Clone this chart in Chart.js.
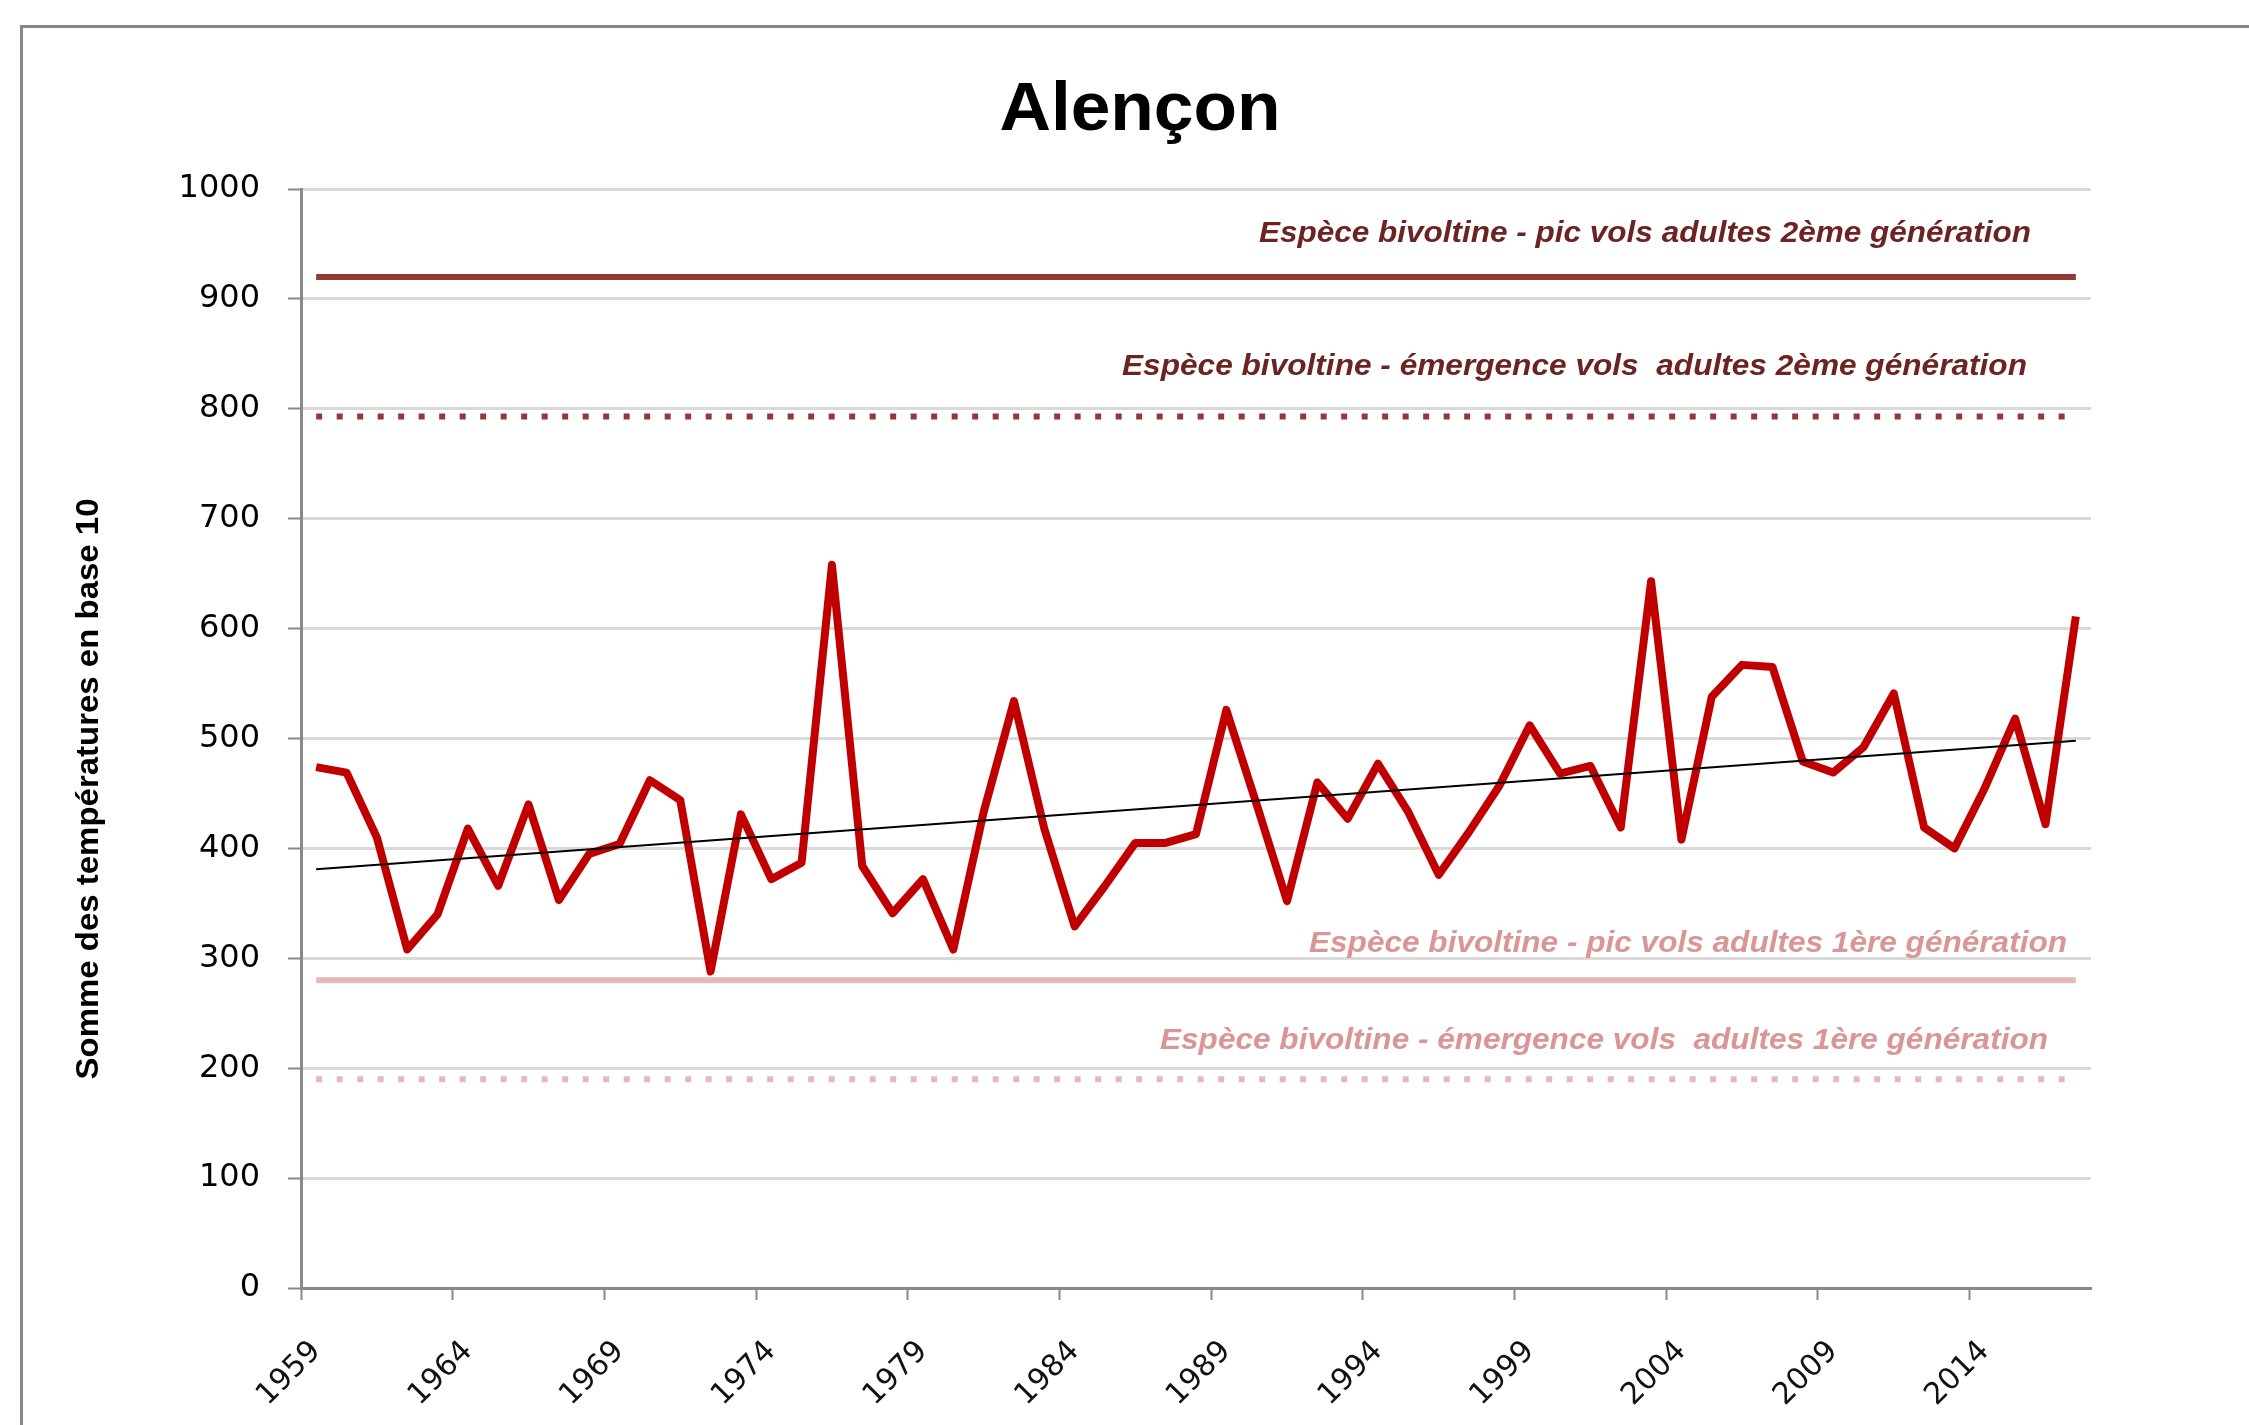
<!DOCTYPE html>
<html>
<head>
<meta charset="utf-8">
<script src="https://cdn.jsdelivr.net/npm/chart.js@4/dist/chart.umd.min.js"></script>
<style>
html,body{margin:0;padding:0;background:#fff;overflow:hidden}
#wrap{position:absolute;left:0;top:0;width:2249px;height:1425px}
</style>
</head>
<body>
<div id="wrap"><canvas id="c" width="2249" height="1425"></canvas></div>
<script>
// ---- data ----
const chartTitle = 'Alençon';
const yAxisTitle = 'Somme des températures en base 10';
const years = ['1959','1960','1961','1962','1963','1964','1965','1966','1967','1968',
  '1969','1970','1971','1972','1973','1974','1975','1976','1977','1978',
  '1979','1980','1981','1982','1983','1984','1985','1986','1987','1988',
  '1989','1990','1991','1992','1993','1994','1995','1996','1997','1998',
  '1999','2000','2001','2002','2003','2004','2005','2006','2007','2008',
  '2009','2010','2011','2012','2013','2014','2015','2016','2017'];
const degreeDays = [474,469,410,308,340,418,366,440,353,395,
  404,462,444,288,431,372,387,658,384,341,
  372,308,433,534,418,329,366,405,405,413,
  526,440,352,460,427,477,433,376,415,457,
  512,468,475,419,643,408,538,567,565,479,
  469,492,541,419,400,455,518,422,611];
const trendStartEnd = [381, 498];
const thresholdLabels = [
  'Espèce bivoltine - pic vols adultes 2ème génération',
  'Espèce bivoltine - émergence vols  adultes 2ème génération',
  'Espèce bivoltine - pic vols adultes 1ère génération',
  'Espèce bivoltine - émergence vols  adultes 1ère génération'
];
const thresholdValues = [920, 793, 280, 190];
const yTicks = [0,100,200,300,400,500,600,700,800,900,1000];

// ---- styles ----
const thresholdStyles = [
  {color:'#953735', dash:[], text:'#6b2422', right:2031, off:35, w:772},
  {color:'#953735', dash:[6,14.5], text:'#6b2422', right:2027, off:41, w:905},
  {color:'#e6b9b8', dash:[], text:'#da9694', right:2067, off:28, w:758},
  {color:'#e6b9b8', dash:[6,14.5], text:'#da9694', right:2048, off:30, w:888}
];

const first = years[0], last = years[years.length-1];
const datasets = [
  {label:'Tendance', data:[{x:first,y:trendStartEnd[0]},{x:last,y:trendStartEnd[1]}],
   borderColor:'#000', borderWidth:2, pointRadius:0, order:0},
  {label:'Alençon', data:degreeDays, borderColor:'#c00000', borderWidth:8,
   pointRadius:0, tension:0, borderJoinStyle:'round', borderCapStyle:'butt', order:1}
];
thresholdValues.forEach((v,i)=>{
  datasets.push({label:thresholdLabels[i], data:[{x:first,y:v},{x:last,y:v}],
    borderColor:thresholdStyles[i].color, borderWidth:6, borderDash:thresholdStyles[i].dash,
    borderCapStyle:'butt', pointRadius:0, order:2});
});

function fitText(ctx, text, ax, ay, w, align){
  const m = ctx.measureText(text).width;
  const sx = w / m;
  ctx.save();
  ctx.translate(ax, ay);
  ctx.scale(sx, 1);
  ctx.textAlign = align;
  ctx.fillText(text, 0, 0);
  ctx.restore();
}

const deco = {
  id:'deco',
  beforeDraw(chart){
    const ctx = chart.ctx;
    ctx.save();
    ctx.fillStyle = '#fff';
    ctx.fillRect(0,0,chart.width,chart.height);
    ctx.fillStyle = '#878787';
    ctx.fillRect(20,25,chart.width,3);
    ctx.fillRect(20,25,3,chart.height);
    ctx.restore();
  },
  afterDatasetsDraw(chart){
    const ctx = chart.ctx;
    const ys = chart.scales.y;
    ctx.save();
    ctx.textBaseline = 'alphabetic';
    ctx.font = 'italic bold 29px "Liberation Sans", Arial, sans-serif';
    thresholdValues.forEach((v,i)=>{
      const s = thresholdStyles[i];
      ctx.fillStyle = s.text;
      fitText(ctx, thresholdLabels[i], s.right, ys.getPixelForValue(v) - s.off, s.w, 'right');
    });
    // title
    ctx.fillStyle = '#000';
    ctx.font = 'bold 68px "Liberation Sans", Arial, sans-serif';
    fitText(ctx, chartTitle, 1140, 130, 281, 'center');
    // y axis title
    ctx.font = 'bold 31px "Liberation Sans", Arial, sans-serif';
    ctx.save();
    ctx.translate(89, 789);
    ctx.rotate(-Math.PI/2);
    ctx.textBaseline = 'middle';
    fitText(ctx, yAxisTitle, 0, 0, 581, 'center');
    ctx.restore();
    ctx.restore();
  }
};

new Chart(document.getElementById('c'), {
  type:'line',
  data:{labels:years, datasets:datasets},
  options:{
    responsive:false,
    animation:false,
    events:[],
    layout:{padding:{left:0, top:189, right:158, bottom:0}},
    plugins:{legend:{display:false}, title:{display:false}, tooltip:{enabled:false}},
    scales:{
      x:{
        type:'category',
        offset:true,
        afterFit(s){ s.height = 137; },
        grid:{
          offset:true,
          drawOnChartArea:false,
          drawTicks:true,
          tickLength:12,
          tickWidth:2,
          tickColor:(c)=> (c.index % 5 === 0) ? '#898989' : 'rgba(0,0,0,0)'
        },
        border:{display:true, color:'#898989', width:3},
        ticks:{
          autoSkip:false,
          minRotation:45,
          maxRotation:45,
          padding:34,
          color:'#111',
          font:{family:'"DejaVu Sans", sans-serif', size:30},
          callback:function(val, idx){ return idx % 5 === 0 ? this.getLabelForValue(val) : ''; }
        }
      },
      y:{
        min:0, max:1000,
        afterFit(s){ s.width = 301; },
        afterBuildTicks(s){ s.ticks = yTicks.map(v=>({value:v})); },
        grid:{
          color:'#d9d9d9',
          lineWidth:3,
          drawTicks:true,
          tickLength:13,
          tickWidth:2,
          tickColor:'#898989'
        },
        border:{display:true, color:'#898989', width:3},
        ticks:{
          padding:28,
          color:'#000',
          font:{family:'"DejaVu Sans", sans-serif', size:32},
          callback:(v)=> String(v)
        }
      }
    }
  },
  plugins:[deco]
});
</script>
</body>
</html>
